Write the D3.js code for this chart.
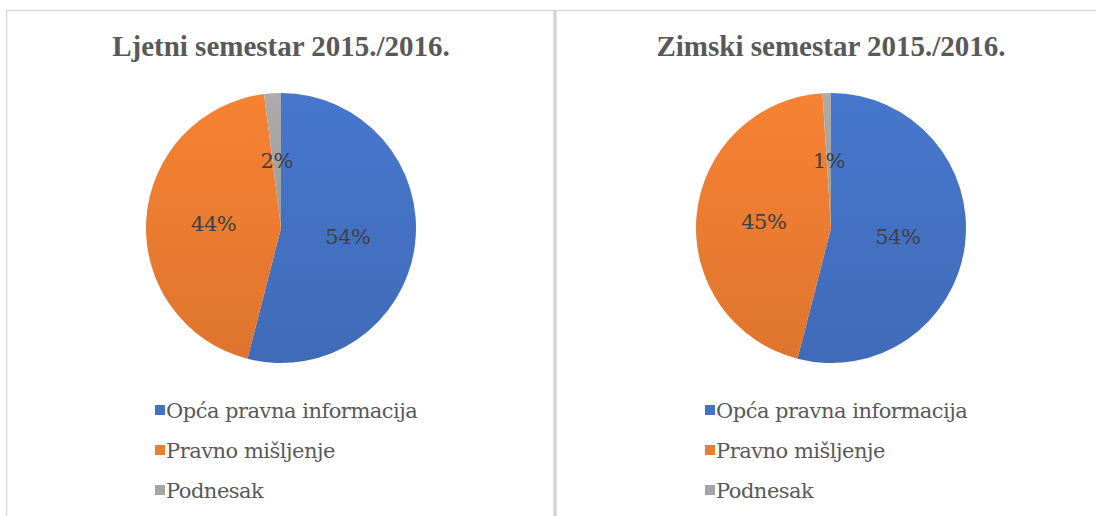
<!DOCTYPE html>
<html>
<head>
<meta charset="utf-8">
<script src="https://cdn.jsdelivr.net/npm/d3@7"></script>
<style>
  body { margin: 0; background: #fff; }
</style>
</head>
<body>
<svg></svg>
<script>
// chart data
const categories = ['Opća pravna informacija', 'Pravno mišljenje', 'Podnesak'];
const titles = ['Ljetni semestar 2015./2016.', 'Zimski semestar 2015./2016.'];
const ljetniValues = [54, 44, 2];
const zimskiValues = [54, 45, 1];
const colors = ['#4472c4', '#ed7d31', '#a5a5a5'];

const width = 1096;
const height = 516;
const panelWidth = 550;
const radius = 135;
const serifBold = "'Liberation Serif', 'Times New Roman', serif";
const serif = "'DejaVu Serif', serif";

const svg = d3.select('svg')
    .attr('width', width)
    .attr('height', height);

// subtle top-to-bottom shading like the office chart
const defs = svg.append('defs');
colors.forEach((c, i) => {
  const g = defs.append('linearGradient')
      .attr('id', 'grad' + i)
      .attr('x1', 0).attr('y1', 0).attr('x2', 0).attr('y2', 1);
  g.append('stop').attr('offset', '0%').attr('stop-color', d3.color(c).brighter(0.12));
  g.append('stop').attr('offset', '100%').attr('stop-color', d3.color(c).darker(0.18));
});

// panel borders
svg.append('line')
    .attr('x1', 6.5).attr('x2', 6.5).attr('y1', 10).attr('y2', height)
    .attr('stroke', '#d9d9d9').attr('stroke-width', 1.5);
svg.append('line')
    .attr('x1', 6).attr('x2', width).attr('y1', 10.5).attr('y2', 10.5)
    .attr('stroke', '#d9d9d9').attr('stroke-width', 1.5);
svg.append('line')
    .attr('x1', 555).attr('x2', 555).attr('y1', 10).attr('y2', height)
    .attr('stroke', '#d4d4d4').attr('stroke-width', 3.5);

const pie = d3.pie().sort(null);
const arc = d3.arc().innerRadius(0).outerRadius(radius);

const charts = [ljetniValues, zimskiValues];

charts.forEach((values, k) => {
  const ox = k * panelWidth;
  const cx = 281 + ox;
  const cy = 228;

  svg.append('text')
      .attr('x', cx)
      .attr('y', 56)
      .attr('text-anchor', 'middle')
      .style('font-family', serifBold)
      .attr('font-size', '29px')
      .attr('font-weight', 'bold')
      .attr('fill', '#595959')
      .text(titles[k]);

  const g = svg.append('g')
      .attr('transform', 'translate(' + cx + ',' + cy + ')');

  const arcs = pie(values);

  g.selectAll('path')
    .data(arcs)
    .enter()
    .append('path')
      .attr('d', arc)
      .attr('fill', (d, i) => 'url(#grad' + i + ')');

  g.selectAll('text')
    .data(arcs)
    .enter()
    .append('text')
      .attr('transform', d => 'translate(' + arc.centroid(d) + ')')
      .attr('dy', '0.35em')
      .attr('text-anchor', 'middle')
      .style('font-family', serif)
      .style('letter-spacing', '-0.5px')
      .attr('font-size', '21px')
      .attr('fill', '#404040')
      .text(d => d.data + '%');

  const legend = svg.append('g')
      .attr('transform', 'translate(' + (155 + ox) + ',0)');

  const rows = legend.selectAll('g')
    .data(categories)
    .enter()
    .append('g')
      .attr('transform', (d, i) => 'translate(0,' + (418 + i * 40) + ')');

  rows.append('rect')
      .attr('x', 0)
      .attr('y', -13)
      .attr('width', 10)
      .attr('height', 10)
      .attr('fill', (d, i) => colors[i]);

  rows.append('text')
      .attr('x', 11)
      .attr('y', 0)
      .style('font-family', serif)
      .style('letter-spacing', '-0.5px')
      .attr('font-size', '21px')
      .attr('fill', '#595959')
      .text(d => d);
});
</script>
</body>
</html>
